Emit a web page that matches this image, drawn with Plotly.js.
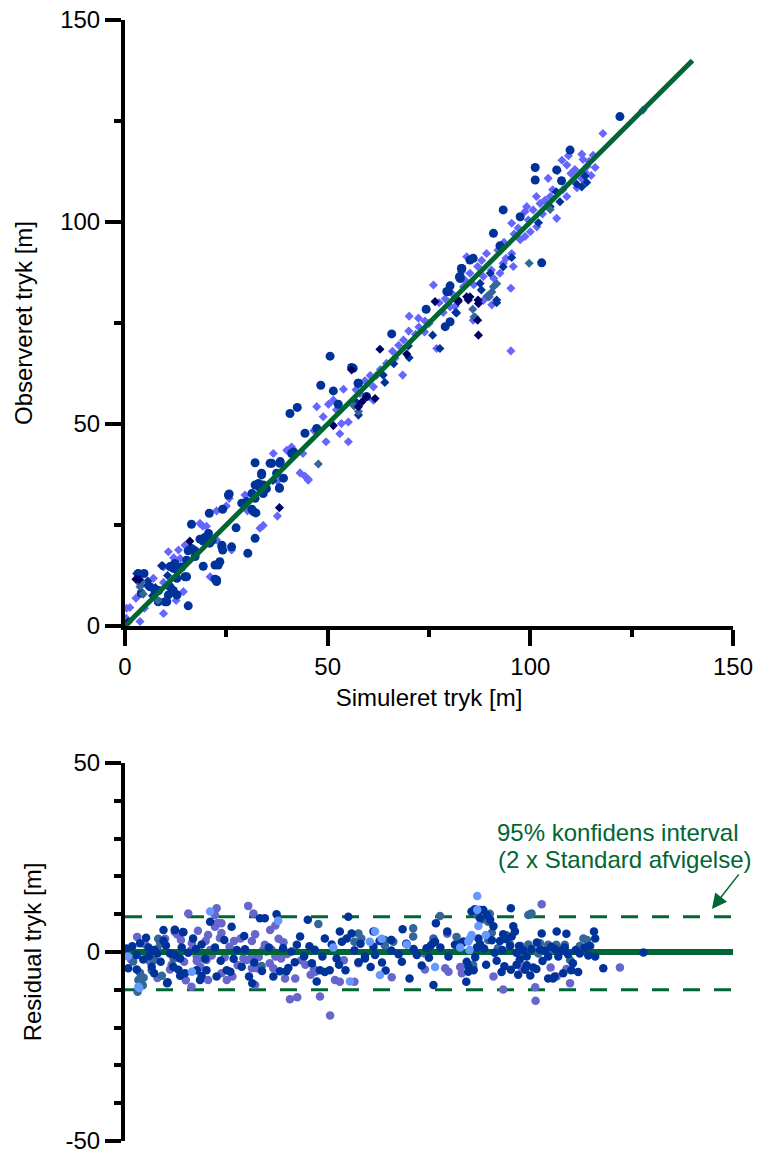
<!DOCTYPE html>
<html>
<head>
<meta charset="utf-8">
<script src="https://cdn.plot.ly/plotly-3.0.1.min.js"></script>
<style>html,body{margin:0;padding:0;background:#fff;}</style>
</head>
<body>
<div id="chart" style="width:760px;height:1158px;"></div>
<script>
// ---------- Top plot: observed vs simulated ----------
const fitLineX = [0, 140];
const fitLineY = [0, 140];

// dark blue circles
const obsCircX = [15.6,22.6,22.2,23.0,23.4,24.1,23.9,26.3,27.4,30.3,32.1,31.7,32.3,31.3,34.1,34.9,32.1,32.9,38.1,28.8,24.1,20.8,16.4,25.7,20.6,19.7,19.3,16.4,15.6,17.3,15.2,12.3,11.5,11.9,14.0,14.8,12.8,11.9,10.7,9.9,8.3,7.4,4.7,3.3,4.0,19.3,20.9,17.3,12.8,32.1,32.1,33.7,36.2,38.3,39.1,38.1,41.6,44.4,47.3,40.7,42.5,48.3,51.4,52.6,50.6,55.9,57.6,59.6,65.8,74.3,80.2,79.8,79.0,80.2,82.7,85.1,56.3,57.5,79.4,82.7,85.9,83.1,93.3,90.9,97.5,102.8,101.2,101.2,106.5,107.7,109.8,122.1,92.5,83.0,82.5,35.8,38.2,37.4,41.1,33.7,34.1,33.2,31.3,30.0,25.5,18.5,20.0,21.5,23.9,22.2,22.6,12.8,11.1,10.3,11.1,12.8,15.2,6.2,8.2];
const obsCircY = [5.0,11.0,11.6,15.1,15.9,18.8,20.0,19.6,24.3,18.0,21.7,28.3,28.0,28.9,32.8,34.0,34.9,35.3,34.1,30.4,28.9,27.9,25.2,32.7,22.9,21.9,21.0,19.2,18.6,18.6,16.3,15.5,14.8,14.3,14.6,12.2,7.7,8.8,7.7,6.0,8.8,8.5,13.0,13.0,8.1,14.8,20.5,17.2,11.8,31.6,40.4,37.8,40.3,40.7,36.6,34.2,43.1,47.7,48.9,52.6,54.1,59.6,58.2,54.9,66.8,64.0,60.1,56.8,72.3,78.4,84.2,82.8,74.1,75.3,86.5,90.6,63.8,60.1,82.8,86.0,91.0,88.5,103.0,97.2,101.3,89.9,113.5,110.4,112.9,110.2,117.8,126.1,94.1,88.5,86.4,40.3,40.3,37.8,42.7,37.4,34.9,34.3,32.8,30.8,32.4,21.5,22.0,21.2,19.6,15.1,11.4,7.7,9.7,6.0,14.7,13.9,12.2,9.7,6.0];

// light purple diamonds
const obsLightX = [0.0,0.4,3.7,0.3,2.7,4.8,9.5,7.0,5.6,9.5,12.6,14.4,10.7,13.2,12.0,13.6,14.8,18.5,20.1,19.2,22.6,25.0,25.7,29.6,22.6,26.3,21.0,30.2,33.3,34.1,37.6,45.2,37.6,9.5,1.2,45.2,44.4,43.2,36.6,39.9,41.1,43.9,49.6,55.1,53.0,53.4,55.1,46.6,48.9,47.3,50.2,51.4,53.9,52.2,59.2,61.3,61.3,62.1,66.6,68.5,68.7,70.1,71.7,73.9,75.0,76.1,76.9,78.5,80.2,83.5,85.1,83.0,85.9,88.4,89.9,72.4,95.2,95.2,117.9,109.4,109.0,107.8,112.7,113.5,112.7,104.4,106.7,109.0,104.9,101.5,99.1,98.7,100.7,102.4,103.6,106.5,95.4,101.6,100.0,98.7,97.5,95.4,95.8,93.3,92.5,89.2,90.4,84.3,83.9,90.5,88.4,81.4,127.8,114.5,115.5,111.0,110.0,108.0,111.5,114.0,105.5,103.0,99.5,97.0,96.0,93.5,92.0,88.0,87.0,86.0,91.0,94.0,115.0,116.0,113.0,64.5,63.0,66.0,58.0,57.0,60.5,70.0,72.5,67.5,74.0,77.5,79.0,81.0];
const obsLightY = [0.0,4.4,1.1,1.9,6.9,4.4,3.1,11.8,10.0,10.8,6.3,8.5,18.4,18.8,16.9,16.7,20.0,25.4,24.7,24.7,28.5,29.7,31.6,32.4,21.3,18.8,12.2,28.5,24.2,24.9,27.2,36.1,35.9,14.6,4.6,36.3,37.1,37.9,42.7,43.5,44.3,42.7,45.6,45.6,47.6,50.1,50.5,48.4,51.8,54.3,54.9,55.9,58.6,53.5,60.7,59.2,55.9,62.1,66.3,62.1,70.8,76.7,72.2,72.8,74.9,84.4,68.7,77.6,79.0,84.0,87.3,87.7,75.7,86.5,81.5,76.2,83.6,68.1,121.9,116.4,114.1,115.3,116.8,112.3,110.7,110.8,112.7,106.3,106.3,106.3,103.8,102.6,103.0,104.6,105.4,100.9,99.7,98.8,97.6,96.4,95.6,92.2,89.0,89.8,87.3,92.2,88.1,91.4,85.6,79.5,80.6,79.1,127.7,115.0,116.5,113.0,112.0,108.0,108.5,113.8,108.0,102.0,100.5,98.5,97.0,95.0,93.0,90.5,89.0,84.5,86.0,91.0,111.5,113.5,115.5,65.0,63.5,68.0,57.5,58.5,62.0,73.0,74.0,69.5,75.5,80.0,81.0,82.0];

// navy diamonds
const obsNavyX = [16.0,38.1,3.5,2.7,62.9,55.9,51.4,57.6,59.6,61.7,69.5,76.5,82.2,84.7,87.2,87.2,87.0,85.1,87.1,82.2,84.3,58.5,0.8];
const obsNavyY = [21.0,29.3,11.5,11.6,68.5,63.4,49.6,54.3,56.7,56.3,67.3,80.3,80.3,80.7,79.8,72.0,75.7,81.5,80.7,80.7,81.5,55.5,1.0];

// dark blue diamonds
const obsBlueDX = [9.3,5.6,5.5,9.0,2.9,63.7,64.1,57.6,66.3,69.9,70.1,75.9,77.7,81.8,87.9,112.7,113.5,113.9,111.4,107.3,106.4,104.9,102.0,95.4,93.3,90.1,87.6,91.7,81.6,91.7,7.5,10.5,6.8,36.5,57.0];
const obsBlueDY = [14.9,11.1,10.0,14.9,13.0,62.1,60.3,52.2,64.9,69.3,66.4,72.0,68.7,77.5,83.2,108.7,111.4,109.8,109.4,105.0,107.5,103.8,99.8,91.2,88.9,87.3,84.8,80.7,77.6,80.0,9.5,12.5,7.5,36.0,55.5];

// steel blue diamonds
const obsSteelX = [3.7,4.1,3.7,4.5,8.1,47.7,57.6,56.5,89.4,86.1,99.7,90.5,91.7,85.8,104.9,86.4,90.9,89.6];
const obsSteelY = [10.5,11.0,9.7,7.9,6.3,40.1,53.1,54.5,81.7,76.5,89.8,82.7,84.7,78.4,103.1,76.4,84.0,81.5];

// ---------- Bottom plot: residuals ----------
const zeroLineX = [0, 150];
const zeroLineY = [0, 0];
const confUpperY = [9.3, 9.3];
const confLowerY = [-10.0, -10.0];

const resDarkX = [3.7,2.9,0.8,0.4,2.9,5.8,7.2,8.0,9.5,9.5,6.6,7.2,10.4,10.5,12.3,14.3,11.1,12.3,13.6,11.9,13.2,13.6,14.8,15.6,14.0,17.7,18.9,18.5,20.1,21.0,22.2,22.6,25.1,26.0,26.3,27.6,29.6,28.8,30.6,31.4,33.3,34.5,36.6,37.4,38.2,39.8,41.1,42.4,43.2,41.9,45.5,45.1,46.1,47.3,48.1,49.3,50.5,49.3,52.2,53.0,53.5,54.7,55.9,54.4,55.1,56.6,59.2,12.3,14.4,0.0,
61.3,61.3,59.2,61.7,68.3,70.2,65.7,65.7,68.5,72.0,71.2,74.4,75.5,76.0,76.5,77.8,76.7,76.1,79.8,79.5,81.4,82.2,83.0,83.5,84.3,84.7,84.7,86.0,84.2,85.5,86.3,87.6,88.4,87.6,89.3,90.1,90.9,87.2,86.8,87.6,86.4,89.1,91.2,92.5,93.3,94.1,95.0,95.4,95.8,96.2,96.6,97.2,98.2,95.2,93.6,95.2,96.6,98.7,99.1,100.7,101.5,99.1,100.3,101.6,102.4,103.6,104.4,105.2,106.1,106.9,107.7,108.5,109.3,102.8,106.5,108.9,104.4,105.6,106.0,108.1,110.1,110.5,111.8,112.2,113.4,114.6,115.7,116.0,116.0,118.0,127.9,114.3,111.2,103.0,97.4,93.1,88.6,90.5,91.7,92.9,97.0,100.0,75.0,73.2,69.4,67.5,63.4,64.3,62.8,60.6,58.1,57.6,
1.8,4.5,5.2,6.0,8.8,10.1,16.8,17.5,18.9,19.8,23.6,24.5,26.8,29.4,31.9,33.8,35.5,39.0,40.3,44.2,46.8,48.7,51.0,52.8];
const resDarkY = [2.3,-0.8,-4.3,0.9,-4.6,1.2,0.5,-0.4,5.8,3.0,-3.9,-5.6,-8.3,-8.0,5.8,5.3,-0.4,-0.8,-1.7,-3.9,-4.7,-6.3,-5.6,-0.2,1.2,-4.8,-6.3,-7.4,-4.8,8.0,1.2,-6.5,-4.8,-5.2,6.7,0.5,0.7,-3.9,-6.5,-8.3,8.9,8.9,-6.5,10.0,-5.1,-5.1,0.1,1.9,4.1,-2.7,1.5,8.5,-3.0,-7.8,-4.8,-5.3,-4.8,3.6,-1.7,5.4,2.7,3.6,4.9,-4.8,9.3,0.4,-1.7,5.9,5.2,-0.4,
5.4,1.4,-1.2,-0.8,-2.6,-7.0,0.4,3.2,6.0,-0.8,0.8,1.0,1.8,2.4,2.7,1.2,7.6,-8.7,-1.2,5.4,1.9,1.9,2.3,2.8,-2.6,-3.9,-5.2,-4.8,-7.9,10.7,11.3,11.1,11.1,8.9,9.8,8.5,6.8,3.6,1.2,2.1,-1.4,-3.4,-0.2,2.9,4.7,3.4,1.6,4.1,6.8,5.4,-0.2,1.6,0.5,11.6,-3.8,-4.7,-3.4,-4.7,-3.5,-4.1,-4.5,-1.2,0.8,2.5,0.6,0.3,-1.2,1.4,0.8,-1.2,0.3,1.2,-0.6,4.9,5.4,4.8,-7.0,-7.0,-6.5,-5.6,-4.8,-3.0,-5.3,-0.4,1.2,1.6,5.4,3.6,-1.2,-4.3,-0.1,-0.9,0.5,-2.4,-2.0,0.5,0.9,3.1,-2.3,-5.3,-6.0,-6.2,-1.5,-3.6,2.2,-0.6,-2.8,-4.9,2.9,-4.0,2.2,-2.7,
1.5,-2.0,3.8,-1.0,-2.6,1.7,3.6,0.8,2.0,-1.8,-2.3,3.2,-1.8,4.2,-2.8,-5.0,1.2,1.0,-4.2,-1.1,0.6,-1.2,2.0,-3.4];

const resPurpleX = [15.6,12.3,12.9,9.9,11.5,11.1,12.0,16.5,16.4,17.7,17.7,18.6,16.4,19.9,19.3,20.1,21.4,21.0,20.5,22.6,22.2,23.0,23.8,22.2,23.8,23.4,23.8,25.1,26.9,30.4,31.7,31.3,32.1,29.2,30.0,31.3,31.7,31.3,32.5,32.1,34.5,34.1,34.9,36.2,37.1,37.1,37.9,39.1,35.7,36.6,44.5,40.7,42.5,48.1,50.6,51.8,57.6,46.6,47.0,53.0,56.6,22.7,65.8,74.0,79.0,79.8,82.7,83.1,79.5,90.9,93.3,101.2,101.3,102.8,106.5,109.8,97.9,73.9,122.1,105.0,108.9,
5.0,6.2,8.0,3.0,1.5,13.8,14.6,15.0,18.0,24.6,25.8,27.8,28.5,33.0,38.5,40.0,42.0,43.5,45.8,54.0,26.5,20.5,35.8,39.5];
const resPurpleY = [10.2,5.3,4.6,3.5,-3.4,-4.6,-4.1,2.3,0.5,-1.2,-2.4,-3.9,-9.2,2.9,-1.7,-2.1,-0.9,0.5,-7.4,11.6,9.8,7.6,7.6,6.7,5.0,3.7,-5.6,-7.4,2.9,12.2,10.2,2.9,4.7,-1.7,-2.1,-1.2,-2.5,-4.3,-4.3,-8.7,1.9,0.6,0.1,0.6,-1.2,7.0,3.5,2.6,-3.0,-4.3,-3.4,-12.5,-12.0,-11.8,-16.8,-7.4,-3.0,-4.5,-5.2,-7.9,-7.9,7.6,-6.7,-4.6,-4.3,-5.2,-4.0,-5.6,4.8,-6.5,-9.9,-9.3,-12.9,12.6,-6.5,-8.3,-4.1,-0.4,-4.1,-4.1,-4.5,
2.0,-2.6,-6.9,4.0,-2.0,3.2,-2.6,-7.5,5.6,-1.4,1.4,-3.5,3.6,-1.3,-1.7,-0.5,-7.0,-2.2,-6.0,-2.2,-6.5,4.5,5.8,-7.0];

const resSteelX = [3.7,3.3,4.4,4.6,6.6,7.2,8.0,8.7,9.1,33.7,47.7,57.6,56.6,58.3,56.6,3.1,2.0,5.5,8.2,12.0,64.1,65.7,66.2,64.1,71.1,71.1,69.5,76.1,77.7,81.8,83.3,85.9,85.9,87.2,88.1,89.6,90.0,89.6,90.5,94.5,95.0,94.1,97.6,99.5,100.3,99.5,102.4,102.8,102.0,104.4,105.2,106.4,107.2,108.1,108.5,109.8,112.2,113.1,114.0,114.8,100.0,98.0,92.0];
const resSteelY = [-5.5,-7.4,-8.8,-6.8,-4.8,-2.1,0.8,2.3,-6.3,-3.7,7.4,4.9,2.7,3.6,0.4,-10.5,-2.5,-1.5,3.5,-1.8,3.2,3.2,2.7,1.8,6.3,4.1,2.1,3.6,9.5,4.0,2.4,-3.4,-4.2,9.5,8.6,8.0,10.1,3.2,5.1,3.6,2.0,4.4,1.6,9.8,10.2,2.0,2.3,0.5,-0.4,1.9,0.5,1.9,0.9,0.5,1.9,-2.1,1.6,3.6,3.2,1.6,10.0,-1.0,1.0];

const resLightX = [0.7,3.3,3.5,16.5,21.0,37.8,51.4,55.5,60.4,86.9,86.9,87.2,85.1,85.5,84.7,82.7,76.5,62.9,61.7,69.5,63.3,85.0,89.0];
const resLightY = [-1.2,-9.2,-9.5,-5.2,10.7,8.3,1.2,-7.8,2.7,14.8,11.2,6.9,3.6,4.5,2.8,1.2,-4.0,-6.1,5.4,1.9,3.5,0.5,4.5];

const bottomTickVals = [-50, 0, 50];
const bottomTickText = ['-50', '0', '50'];
const noteLine1 = '95% konfidens interval';
const noteLine2 = '(2 x Standard afvigelse)';

const GREEN = '#006633';
function pts(x, y, color, symbol, size, xa, ya) {
  return {x: x, y: y, type: 'scatter', mode: 'markers', xaxis: xa, yaxis: ya,
    cliponaxis: false, hoverinfo: 'skip',
    marker: {color: color, symbol: symbol, size: size, line: {width: 0}}};
}

const traces = [
  pts(obsLightX, obsLightY, '#6666ff', 'diamond', 7, 'x', 'y'),
  pts(obsCircX, obsCircY, '#003399', 'circle', 9, 'x', 'y'),
  pts(obsBlueDX, obsBlueDY, '#003399', 'diamond', 7, 'x', 'y'),
  pts(obsSteelX, obsSteelY, '#336699', 'diamond', 7, 'x', 'y'),
  pts(obsNavyX, obsNavyY, '#000066', 'diamond', 7, 'x', 'y'),
  {x: fitLineX, y: fitLineY, type: 'scatter', mode: 'lines', xaxis: 'x', yaxis: 'y',
   line: {color: GREEN, width: 5}, hoverinfo: 'skip'},

  {x: zeroLineX, y: confUpperY, type: 'scatter', mode: 'lines', xaxis: 'x2', yaxis: 'y2',
   line: {color: GREEN, width: 3, dash: '17px,14px'}, hoverinfo: 'skip'},
  {x: zeroLineX, y: confLowerY, type: 'scatter', mode: 'lines', xaxis: 'x2', yaxis: 'y2',
   line: {color: GREEN, width: 3, dash: '17px,14px'}, hoverinfo: 'skip'},
  pts(resPurpleX, resPurpleY, '#6666cc', 'circle', 8.5, 'x2', 'y2'),
  {x: zeroLineX, y: zeroLineY, type: 'scatter', mode: 'lines', xaxis: 'x2', yaxis: 'y2',
   line: {color: GREEN, width: 6}, hoverinfo: 'skip'},
  pts(resSteelX, resSteelY, '#336699', 'circle', 8.5, 'x2', 'y2'),
  pts(resDarkX, resDarkY, '#003399', 'circle', 8.5, 'x2', 'y2'),
  pts(resLightX, resLightY, '#6699ff', 'circle', 8.5, 'x2', 'y2')
];

const axisCommon = {
  showline: true, linewidth: 4, linecolor: 'black',
  ticks: 'outside', ticklen: 16, tickwidth: 4, tickcolor: 'black',
  showgrid: false, zeroline: false, tickfont: {size: 24, color: 'black'}
};

const layout = {
  width: 760, height: 1158,
  margin: {l: 125, r: 27, t: 20, b: 17},
  paper_bgcolor: 'white', plot_bgcolor: 'rgba(0,0,0,0)',
  showlegend: false,
  font: {family: '"Liberation Sans", Arial, sans-serif', size: 24, color: 'black'},
  xaxis: Object.assign({}, axisCommon, {
    domain: [0, 1], range: [0, 150], anchor: 'y', tickmode: 'linear', tick0: 0, dtick: 50,
    minor: {ticks: 'outside', ticklen: 7, tickwidth: 4, tickcolor: 'black', tick0: 0, dtick: 25, showgrid: false},
    title: {text: 'Simuleret tryk [m]', font: {size: 24}, standoff: 11}
  }),
  yaxis: Object.assign({}, axisCommon, {
    domain: [0.4594, 1], range: [0, 150], anchor: 'x', tickmode: 'linear', tick0: 0, dtick: 50,
    minor: {ticks: 'outside', ticklen: 7, tickwidth: 4, tickcolor: 'black', tick0: 0, dtick: 25, showgrid: false},
    title: {text: 'Observeret tryk [m]', font: {size: 24}, standoff: 22}
  }),
  xaxis2: {domain: [0, 1], range: [0, 150], anchor: 'y2', visible: false},
  yaxis2: Object.assign({}, axisCommon, {
    domain: [0, 0.3372], range: [-50, 50], anchor: 'x2',
    tickmode: 'array', tickvals: bottomTickVals, ticktext: bottomTickText,
    minor: {ticks: 'outside', ticklen: 7, tickwidth: 4, tickcolor: 'black', tickmode: 'linear', tick0: 0, dtick: 10, showgrid: false},
    title: {text: 'Residual tryk [m]', font: {size: 24}, standoff: 18}
  }),
  annotations: [
    {xref: 'x2', yref: 'y2', x: 91.3, y: 31.5, xanchor: 'left', yanchor: 'middle',
     text: noteLine1, showarrow: false, font: {size: 24, color: GREEN}},
    {xref: 'x2', yref: 'y2', x: 91.5, y: 24.6, xanchor: 'left', yanchor: 'middle',
     text: noteLine2, showarrow: false, font: {size: 24, color: GREEN}},
    {xref: 'x2', yref: 'y2', x: 144.8, y: 11.4, ax: 28, ay: -36, text: '',
     showarrow: true, arrowhead: 2, arrowsize: 2, arrowwidth: 1.5, arrowcolor: GREEN}
  ]
};

Plotly.newPlot('chart', traces, layout, {staticPlot: true, displayModeBar: false});
</script>
</body>
</html>
